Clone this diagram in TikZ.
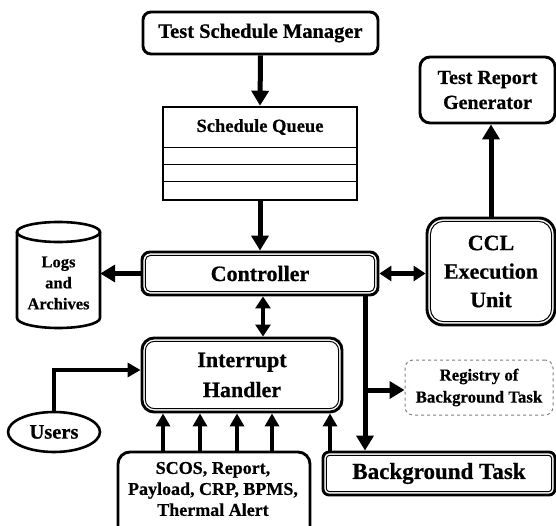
\documentclass[tikz,border=0pt]{standalone}
\usepackage{fontspec}
\setmainfont{Liberation Serif}[BoldFeatures={FakeBold=0.6}]
\usetikzlibrary{arrows.meta,calc,shapes.geometric}
\tikzset{
  fs/.style 2 args={font=\fontsize{#1}{#2}\selectfont\bfseries},
  box/.style={draw, line width=2.9pt, rounded corners=#1, inner sep=0pt, align=center},
  box/.default=8pt,
  dbl/.style 2 args={box=#1,
    path picture={\draw[line width=1pt, rounded corners=#2]
      ([shift={(3.4pt,-3.4pt)}]path picture bounding box.north west) rectangle
      ([shift={(-3.4pt,3.4pt)}]path picture bounding box.south east);}},
  arr/.style={line width=5pt, -{Triangle[width=17pt,length=15pt]}},
  darr/.style={line width=4.6pt, {Triangle[width=15pt,length=12pt]}-{Triangle[width=15pt,length=12pt]}},
  sarr/.style={line width=4.6pt, -{Triangle[width=14pt,length=13pt]}},
}
\begin{document}
\begin{tikzpicture}[x=1pt,y=-1pt]
\useasboundingbox (0,0) rectangle (556,526);
% nodes
\node[box=8pt, fs={20.5}{24}, minimum width=235pt, minimum height=42pt] (tsm) at (260.5,33) {Test Schedule Manager};
\node[draw, line width=2.6pt, minimum width=194pt, minimum height=93pt, inner sep=0pt] (sq) at (260,153.5) {};
\node[fs={18.5}{21}] (sqlabel) at (260,127) {Schedule Queue};
\draw[line width=1pt] (sq.west |- 0,148) -- (sq.east |- 0,148);
\draw[line width=1pt] (sq.west |- 0,165) -- (sq.east |- 0,165);
\draw[line width=1pt] (sq.west |- 0,182) -- (sq.east |- 0,182);
\node[dbl={8pt}{5pt}, fs={22}{26}, minimum width=236pt, minimum height=43pt] (ctrl) at (260,273.5) {Controller};
\node[dbl={12pt}{9pt}, fs={22}{30}, minimum width=200pt, minimum height=74pt] (ih) at (242,375) {Interrupt\\Handler};
\node[dbl={16pt}{13pt}, fs={22}{28.5}, minimum width=128pt, minimum height=107pt] (ccl) at (491,271.5) {CCL\\Execution\\Unit};
\node[dbl={6pt}{3pt}, fs={23}{26}, minimum width=232pt, minimum height=43pt] (bt) at (439,473.5) {Background Task};
\node[box=10pt, fs={20}{25}, minimum width=135pt, minimum height=66pt] (trg) at (487.5,90) {Test Report\\Generator};
\node[box=8pt, draw=gray, dashed, line width=1pt, fs={16.8}{22}, minimum width=148pt, minimum height=55pt] (reg) at (479,387.5) {Registry of\\Background Task};
\node[draw, ellipse, line width=2.6pt, fs={20.5}{24}, minimum width=92pt, minimum height=40pt, inner sep=0pt] (users) at (54,432) {Users};
\node[box=12pt, minimum width=192pt, minimum height=86pt] (scos) at (214,495) {};
\node[fs={18}{21}, align=center] (scostext) at (213,489) {SCOS, Report,\\Payload, CRP, BPMS,\\Thermal Alert};
% cylinder
\draw[line width=2.6pt, fill=white] (17,232) -- (17,318)
  arc[start angle=180, end angle=360, x radius=41.5pt, y radius=10pt] -- (100,232);
\draw[line width=2.6pt] (58.5,232) ellipse[x radius=41.5pt, y radius=10pt];
\node[fs={16.5}{21}, align=center, minimum width=83pt, minimum height=90pt, inner sep=0pt] (logs) at (58.5,283) {Logs\\and\\Archives};
% connectors
\coordinate (split) at (365,390);
\draw[arr] (tsm.south) -- (sq.north);
\draw[arr] (sq.south) -- (ctrl.north);
\draw[arr] (ctrl.west) -- (ctrl.west -| logs.east);
\draw[darr] ([xshift=3pt]ctrl.south) -- ([xshift=3pt]ctrl.south |- ih.north);
\draw[darr] (ctrl.east) -- (ctrl.east -| ccl.west);
\draw[arr] (ccl.north) -- (ccl.north |- trg.south);
\draw[arr] (split |- ctrl.south) -- (split |- bt.north);
\draw[arr] (split) -- (split -| reg.west);
\draw[sarr] (users.north) |- ([yshift=5pt]ih.west);
\draw[sarr] (163,0 |- scos.north) -- (163,0 |- ih.south);
\draw[sarr] (200,0 |- scos.north) -- (200,0 |- ih.south);
\draw[sarr] (237,0 |- scos.north) -- (237,0 |- ih.south);
\draw[sarr] (272,0 |- scos.north) -- (272,0 |- ih.south);
\draw[sarr] (330,0 |- bt.north) -- (330,0 |- ih.south);
\end{tikzpicture}
\end{document}
